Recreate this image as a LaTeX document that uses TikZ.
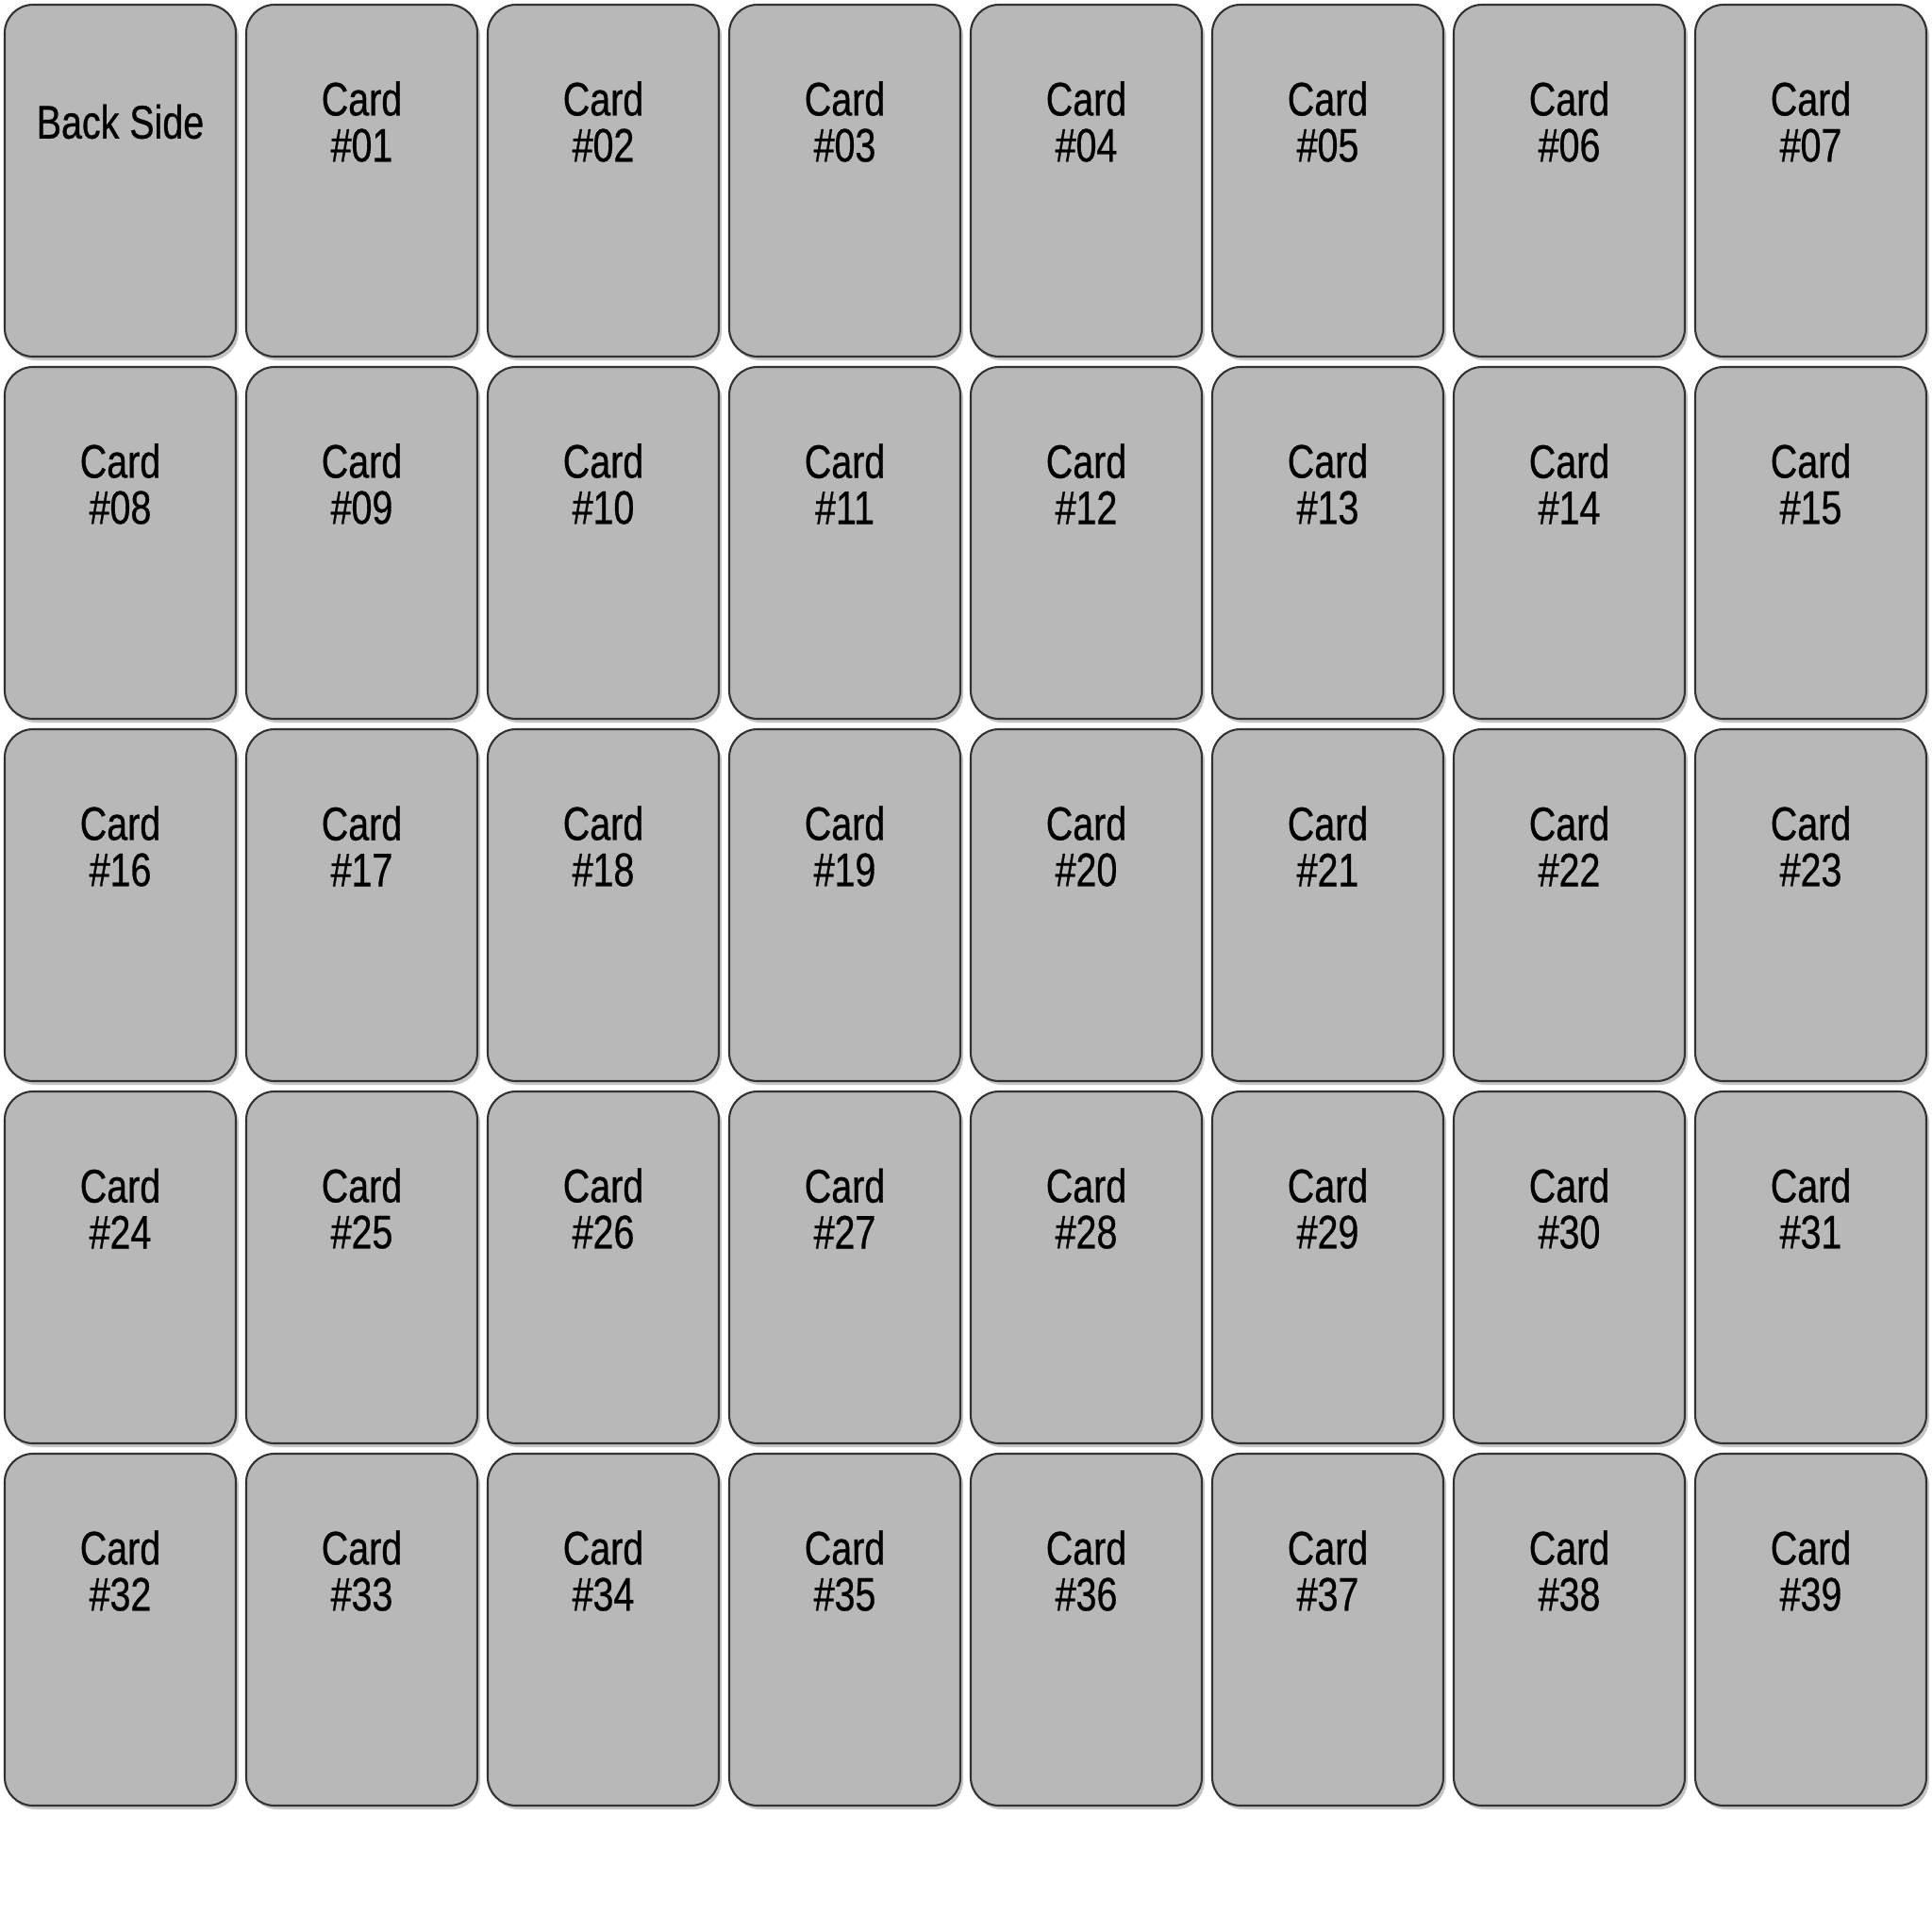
\documentclass[tikz,border=0pt]{standalone}
\usepackage{fontspec}
\setmainfont[FakeStretch=0.79, FakeBold=0.6]{Liberation Sans}
\usepackage{tikz}
\usetikzlibrary{shadows}
\definecolor{cardgray}{HTML}{B8B8B8}
\definecolor{cardedge}{HTML}{333333}

\begin{document}
\begin{tikzpicture}[x=1mm, y=-1mm, line width=0.6pt]
  \useasboundingbox (0,0) rectangle (204.8,204.8);
  \tikzset{card/.style={draw=cardedge, fill=cardgray, rounded corners=3mm,
             minimum width=24.5mm, minimum height=37.3mm, inner sep=0pt,
             drop shadow={shadow xshift=0.3mm, shadow yshift=-0.4mm, opacity=0.45}},
           cardtext/.style={align=center, inner sep=0pt, text=black,
             font=\fontsize{14.2}{13.9}\selectfont}}
  \foreach \r in {0,...,4}{
    \foreach \c in {0,...,7}{
      \pgfmathtruncatemacro\n{\r*8+\c}
      \node[card] (c\n) at ({12.75+\c*25.6},{19.15+\r*38.4}) {};
      \ifnum\n=0
        \node[cardtext] (t\n) at ({12.75+\c*25.6},{12.9+\r*38.4}) {Back Side};
      \else
        \node[cardtext] (t\n) at ({12.75+\c*25.6},{12.9+\r*38.4})
          {Card\\\#\ifnum\n<10 0\fi\n};
      \fi}}
\end{tikzpicture}
\end{document}
